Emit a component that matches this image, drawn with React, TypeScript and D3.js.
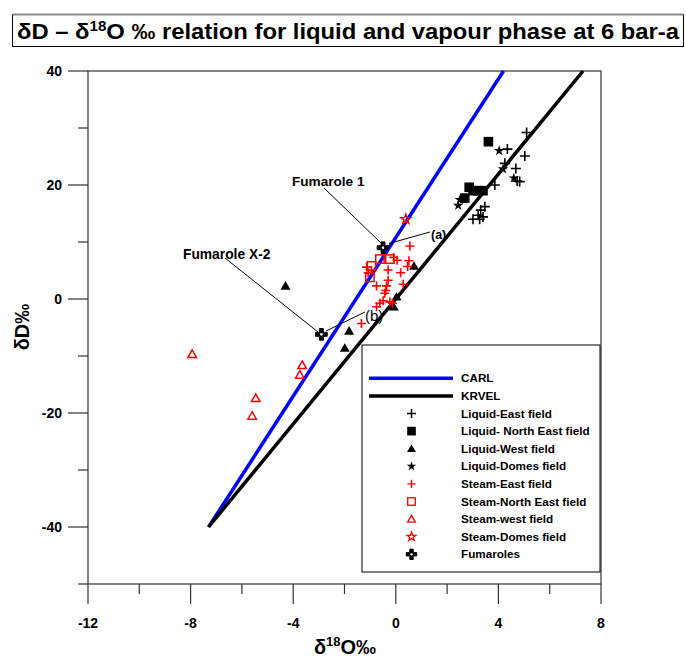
import React from "react";
import * as d3 from "d3";

// ---------- data ----------
const xTicksMajor = [-12, -8, -4, 0, 4, 8];
const xTicksMinor = [-10, -6, -2, 2, 6];
const yTicksMajor = [-40, -20, 0, 20, 40];
const yTicksMinor = [-50, -30, -10, 10, 30];

const carlLine: [number, number][] = [[-7.3, -40], [4.2, 40]];
const krvelLine: [number, number][] = [[-7.3, -40], [7.3, 40]];

const liquidEast: [number, number][] = [
  [5.1, 29.2], [4.35, 26.3], [5.03, 25.1], [4.25, 23.8], [4.68, 22.9], [4.73, 20.7],
  [4.83, 20.6], [3.86, 20.0], [3.47, 16.2], [3.31, 15.6], [3.21, 14.7], [3.01, 14.0],
  [3.27, 14.0], [3.4, 14.4],
];
const liquidNE: [number, number][] = [
  [3.61, 27.6], [2.86, 19.6], [3.01, 19.0], [3.21, 19.0], [3.4, 19.0], [2.69, 17.7],
];
const liquidWest: [number, number][] = [
  [-4.3, 2.3], [0.71, 5.8], [0.03, 0.4], [-0.08, -1.35], [-1.82, -5.6], [-1.99, -8.6],
];
const liquidDomes: [number, number][] = [
  [4.03, 26.0], [4.18, 22.8], [4.6, 21.2], [2.5, 17.4], [2.43, 16.4],
];
const steamEast: [number, number][] = [
  [0.55, 9.3], [-0.08, 7.3], [0.05, 6.8], [0.51, 6.7], [0.46, 5.7], [-0.3, 5.1],
  [0.19, 4.6], [-1.14, 5.6], [-1.08, 4.6], [-0.95, 5.0], [-0.3, 3.3], [0.29, 2.6],
  [-0.75, 2.3], [-0.36, 2.3], [-0.39, 1.5], [-0.43, 1.0], [-0.49, -0.3], [-0.62, -0.75],
  [-0.23, -0.5], [-0.13, -0.75], [-0.75, -1.35], [-1.34, -4.3],
];
const steamNE: [number, number][] = [
  [-0.62, 7.0], [-0.23, 7.0], [-0.95, 5.8], [-1.01, 3.8],
];
const steamWest: [number, number][] = [
  [-7.94, -9.65], [-3.65, -11.6], [-3.74, -13.3], [-5.46, -17.4], [-5.6, -20.5],
];
const steamDomes: [number, number][] = [[0.39, 14.0]];
const fumaroles: [number, number][] = [[-0.5, 9.0], [-2.9, -6.2]];

const legendItems = [
  "CARL", "KRVEL", "Liquid-East field", "Liquid- North East field", "Liquid-West field",
  "Liquid-Domes field", "Steam-East field", "Steam-North East field", "Steam-west field",
  "Steam-Domes field", "Fumaroles",
];

// ---------- layout ----------
const W = 686, H = 657;
const x = d3.scaleLinear().domain([-12, 8]).range([88, 601]);
const y = d3.scaleLinear().domain([-50, 40]).range([584, 71]);
const FONT = "'Liberation Sans', Arial, Helvetica, sans-serif";
const RED = "#ff0000";
const BLUE = "#0000ff";

const lineGen = d3.line<[number, number]>().x((d) => x(d[0])).y((d) => y(d[1]));

type Kind = "plus" | "square" | "tri" | "star" | "plusR" | "squareO" | "triO" | "starO" | "fum";

function Marker({ kind, cx, cy, scale = 1 }: { kind: Kind; cx: number; cy: number; scale?: number }) {
  const t = `translate(${cx},${cy}) scale(${scale})`;
  switch (kind) {
    case "plus":
      return <path transform={t} d="M-5,0H5M0,-5V5" stroke="#000" strokeWidth={1.6} fill="none" />;
    case "plusR":
      return <path transform={t} d="M-4.5,0H4.5M0,-4.5V4.5" stroke={RED} strokeWidth={1.6} fill="none" />;
    case "square":
      return <rect transform={t} x={-4.8} y={-4.8} width={9.6} height={9.6} fill="#000" />;
    case "squareO":
      return <rect transform={t} x={-4.2} y={-4.2} width={8.4} height={8.4} fill="none" stroke={RED} strokeWidth={1.5} />;
    case "tri":
      return <path transform={t} d="M0,-4.8L5,3.8L-5,3.8Z" fill="#000" />;
    case "triO":
      return <path transform={t} d="M0,-4.2L4.3,3.4L-4.3,3.4Z" fill="none" stroke={RED} strokeWidth={1.5} />;
    case "star":
      return <path transform={t} d={d3.symbol(d3.symbolStar, 34)() as string} fill="#000" />;
    case "starO":
      return <path transform={t} d={d3.symbol(d3.symbolStar, 30)() as string} fill="none" stroke={RED} strokeWidth={1.4} />;
    case "fum":
      return (
        <g transform={t}>
          <path d={d3.symbol(d3.symbolCross, 75)() as string} fill="#000" stroke="#000" strokeWidth={1} strokeLinejoin="round" />
          <circle r={1.3} fill="#fff" />
        </g>
      );
  }
  return null;
}

const seriesList: { data: [number, number][]; kind: Kind }[] = [
  { data: steamWest, kind: "triO" },
  { data: liquidWest, kind: "tri" },
  { data: liquidNE, kind: "square" },
  { data: liquidEast, kind: "plus" },
  { data: liquidDomes, kind: "star" },
  { data: steamNE, kind: "squareO" },
  { data: steamEast, kind: "plusR" },
  { data: steamDomes, kind: "starO" },
  { data: fumaroles, kind: "fum" },
];
const legendKinds: Kind[] = ["plus", "square", "tri", "star", "plusR", "squareO", "triO", "starO", "fum"];

export default function App() {
  const x0 = x(-12), x1 = x(8), y0 = y(-50), y1 = y(40);
  const axisColor = "#333";
  const legX = 362, legY = 345, legW = 238, legH = 227;
  const rowY = (i: number) => 378.3 + i * 17.6;

  return (
    <svg width={W} height={H} style={{ display: "block", position: "absolute", left: 0, top: 0 }}>
      <rect width={W} height={H} fill="#fff" />
      {/* title */}
      <rect x={12.5} y={14.5} width={671} height={32} fill="none" stroke="#000" strokeWidth={1} />
      <line x1={12.5} x2={683.5} y1={14.5} y2={14.5} stroke="#888" strokeWidth={2} />
      <text x={17} y={39} fontFamily={FONT} fontWeight="bold" fontSize={22} fill="#000"
        textLength={662} lengthAdjust="spacingAndGlyphs">
        δD – δ<tspan dy={-8} fontSize={14}>18</tspan><tspan dy={8}>O ‰ relation for liquid and vapour phase at 6 bar-a</tspan>
      </text>

      {/* frame */}
      <rect x={x0} y={y1} width={x1 - x0} height={y0 - y1} fill="none" stroke={axisColor} strokeWidth={1.2} />
      {xTicksMajor.map((t) => (
        <g key={"xM" + t}>
          <line x1={x(t)} x2={x(t)} y1={y0} y2={y0 + 20} stroke={axisColor} strokeWidth={1.2} />
          <text x={x(t)} y={628} textAnchor="middle" fontFamily={FONT} fontWeight="bold" fontSize={14}>{t}</text>
        </g>
      ))}
      {xTicksMinor.map((t) => (
        <line key={"xm" + t} x1={x(t)} x2={x(t)} y1={y0} y2={y0 + 10} stroke={axisColor} strokeWidth={1.2} />
      ))}
      {yTicksMajor.map((t) => (
        <g key={"yM" + t}>
          <line x1={x0 - 20} x2={x0} y1={y(t)} y2={y(t)} stroke={axisColor} strokeWidth={1.2} />
          <text x={62} y={y(t) + 5} textAnchor="end" fontFamily={FONT} fontWeight="bold" fontSize={14}>{t}</text>
        </g>
      ))}
      {yTicksMinor.map((t) => (
        <line key={"ym" + t} x1={x0 - 10} x2={x0} y1={y(t)} y2={y(t)} stroke={axisColor} strokeWidth={1.2} />
      ))}

      {/* axis titles */}
      <text x={345} y={654} textAnchor="middle" fontFamily={FONT} fontWeight="bold" fontSize={20}>
        δ<tspan dy={-8} fontSize={13}>18</tspan><tspan dy={8}>O‰</tspan>
      </text>
      <text transform="translate(29,327) rotate(-90)" textAnchor="middle" fontFamily={FONT} fontWeight="bold" fontSize={20}>
        δD‰
      </text>

      {/* reference lines */}
      <path d={lineGen(carlLine) as string} stroke={BLUE} strokeWidth={3.5} fill="none" />
      <path d={lineGen(krvelLine) as string} stroke="#000" strokeWidth={3.5} fill="none" />

      {/* annotations */}
      <g fontFamily={FONT} fill="#000">
        <line x1={324} y1={188} x2={381} y2={243} stroke="#000" strokeWidth={1} />
        <text x={292} y={186} fontWeight="bold" fontSize={13.6}>Fumarole 1</text>
        <line x1={225} y1={258} x2={318} y2={332} stroke="#000" strokeWidth={1} />
        <text x={183} y={259} fontWeight="bold" fontSize={13.8}>Fumarole X-2</text>
        <line x1={389} y1={243.5} x2={430} y2={232} stroke="#000" strokeWidth={1} />
        <text x={431} y={239} fontWeight="bold" fontSize={12.5}>(a)</text>
        <line x1={326} y1={331} x2={365} y2={312} stroke="#000" strokeWidth={1} />
        <text x={365} y={321} fontSize={15}>(b)</text>
      </g>

      {/* points */}
      {seriesList.map((s, si) =>
        s.data.map((d, i) => <Marker key={si + "-" + i} kind={s.kind} cx={x(d[0])} cy={y(d[1])} />)
      )}

      {/* legend */}
      <rect x={legX} y={legY} width={legW} height={legH} fill="#fff" stroke="#000" strokeWidth={1} />
      <line x1={369} x2={453} y1={rowY(0)} y2={rowY(0)} stroke={BLUE} strokeWidth={3.5} />
      <line x1={369} x2={453} y1={rowY(1)} y2={rowY(1)} stroke="#000" strokeWidth={3.5} />
      {legendKinds.map((k, i) => (
        <Marker key={"lg" + k} kind={k} cx={411.5} cy={rowY(i + 2)} scale={0.9} />
      ))}
      {legendItems.map((label, i) => (
        <text key={"lt" + i} x={461} y={rowY(i) + 4} fontFamily={FONT} fontWeight="bold" fontSize={11.7}>{label}</text>
      ))}
    </svg>
  );
}
